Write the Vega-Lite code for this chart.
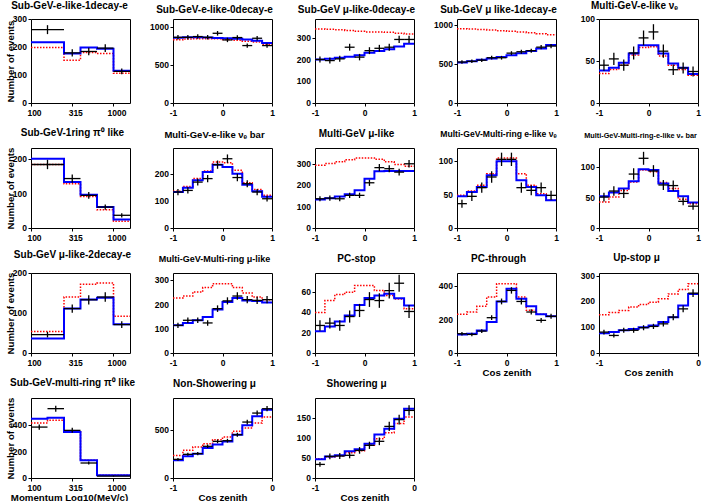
{
"$schema": "https://vega.github.io/schema/vega-lite/v6.json",
"background": "white",
"padding": {"left": 4, "top": 0, "right": 0, "bottom": 0},
"autosize": {"type": "pad"},
"columns": 5,
"spacing": {"row": 45, "column": 43},
"bounds": "flush",
"datasets": {
"yt1": [{"v":0},{"v":100},{"v":200},{"v":300}],
"yt2": [{"v":0},{"v":500},{"v":1000}],
"yt3": [{"v":0},{"v":100},{"v":200},{"v":300}],
"yt4": [{"v":0},{"v":500},{"v":1000}],
"yt5": [{"v":0},{"v":50},{"v":100}],
"yt6": [{"v":0},{"v":100},{"v":200}],
"yt7": [{"v":0},{"v":100},{"v":200}],
"yt8": [{"v":0},{"v":100},{"v":200},{"v":300}],
"yt9": [{"v":0},{"v":50},{"v":100}],
"yt10": [{"v":0},{"v":50},{"v":100}],
"yt11": [{"v":0},{"v":100},{"v":200}],
"yt12": [{"v":0},{"v":100},{"v":200},{"v":300}],
"yt13": [{"v":0},{"v":20},{"v":40},{"v":60}],
"yt14": [{"v":0},{"v":200},{"v":400}],
"yt15": [{"v":0},{"v":100},{"v":200},{"v":300}],
"yt16": [{"v":0},{"v":200},{"v":400}],
"yt17": [{"v":0},{"v":500}],
"yt18": [{"v":0},{"v":50},{"v":100},{"v":150}],
"p1": [{"x0":2.0,"x1":2.4,"xc":2.2,"d":262,"lo":246,"hi":278,"b":217,"r":198},{"x0":2.4,"x1":2.6,"xc":2.5,"d":179,"lo":166,"hi":192,"b":177,"r":153},{"x0":2.6,"x1":2.8,"xc":2.7,"d":184,"lo":170.5,"hi":197.5,"b":198,"r":180},{"x0":2.8,"x1":3.0,"xc":2.9,"d":196,"lo":182,"hi":210,"b":194,"r":177},{"x0":3.0,"x1":3.2,"xc":3.1,"d":113,"lo":102.4,"hi":123.6,"b":115,"r":106},{"x0":3.2,"b":115,"r":106}],
"p2": [{"x0":-1,"x1":-0.8,"xc":-0.9,"d":860,"lo":831,"hi":889,"b":855,"r":828},{"x0":-0.8,"x1":-0.6,"xc":-0.7,"d":860,"lo":831,"hi":889,"b":860,"r":838},{"x0":-0.6,"x1":-0.4,"xc":-0.5,"d":870,"lo":841,"hi":899,"b":862,"r":842},{"x0":-0.4,"x1":-0.2,"xc":-0.3,"d":860,"lo":831,"hi":889,"b":858,"r":842},{"x0":-0.2,"x1":0,"xc":-0.1,"d":913,"lo":883,"hi":943,"b":852,"r":840},{"x0":0,"x1":0.2,"xc":0.1,"d":826,"lo":797,"hi":855,"b":848,"r":832},{"x0":0.2,"x1":0.4,"xc":0.3,"d":857,"lo":828,"hi":886,"b":842,"r":822},{"x0":0.4,"x1":0.6,"xc":0.5,"d":752,"lo":725,"hi":779,"b":832,"r":810},{"x0":0.6,"x1":0.8,"xc":0.7,"d":848,"lo":819,"hi":877,"b":815,"r":800},{"x0":0.8,"x1":1,"xc":0.9,"d":752,"lo":725,"hi":779,"b":785,"r":770},{"x0":1,"b":785,"r":770}],
"p3": [{"x0":-1,"x1":-0.8,"xc":-0.9,"d":202,"lo":188,"hi":216,"b":202,"r":344},{"x0":-0.8,"x1":-0.6,"xc":-0.7,"d":197,"lo":183,"hi":211,"b":205,"r":342},{"x0":-0.6,"x1":-0.4,"xc":-0.5,"d":205,"lo":191,"hi":219,"b":210,"r":340},{"x0":-0.4,"x1":-0.2,"xc":-0.3,"d":259,"lo":243,"hi":275,"b":215,"r":337},{"x0":-0.2,"x1":0,"xc":-0.1,"d":213,"lo":198,"hi":228,"b":222,"r":333},{"x0":0,"x1":0.2,"xc":0.1,"d":243,"lo":227,"hi":259,"b":233,"r":330},{"x0":0.2,"x1":0.4,"xc":0.3,"d":254,"lo":238,"hi":270,"b":242,"r":330},{"x0":0.4,"x1":0.6,"xc":0.5,"d":259,"lo":243,"hi":275,"b":250,"r":328},{"x0":0.6,"x1":0.8,"xc":0.7,"d":295,"lo":278,"hi":312,"b":262,"r":324},{"x0":0.8,"x1":1,"xc":0.9,"d":295,"lo":278,"hi":312,"b":275,"r":320},{"x0":1,"b":275,"r":320}],
"p4": [{"x0":-1,"x1":-0.8,"xc":-0.9,"d":527,"lo":504,"hi":550,"b":522,"r":955},{"x0":-0.8,"x1":-0.6,"xc":-0.7,"d":536,"lo":513,"hi":559,"b":538,"r":950},{"x0":-0.6,"x1":-0.4,"xc":-0.5,"d":550,"lo":527,"hi":573,"b":555,"r":945},{"x0":-0.4,"x1":-0.2,"xc":-0.3,"d":582,"lo":558,"hi":606,"b":572,"r":940},{"x0":-0.2,"x1":0,"xc":-0.1,"d":582,"lo":558,"hi":606,"b":590,"r":930},{"x0":0,"x1":0.2,"xc":0.1,"d":641,"lo":616,"hi":666,"b":615,"r":922},{"x0":0.2,"x1":0.4,"xc":0.3,"d":659,"lo":633,"hi":685,"b":640,"r":912},{"x0":0.4,"x1":0.6,"xc":0.5,"d":673,"lo":647,"hi":699,"b":668,"r":902},{"x0":0.6,"x1":0.8,"xc":0.7,"d":718,"lo":691,"hi":745,"b":700,"r":890},{"x0":0.8,"x1":1,"xc":0.9,"d":732,"lo":705,"hi":759,"b":745,"r":877},{"x0":1,"b":745,"r":877}],
"p5": [{"x0":-1,"x1":-0.8,"xc":-0.9,"d":45,"lo":38.3,"hi":51.7,"b":38.8,"r":35},{"x0":-0.8,"x1":-0.6,"xc":-0.7,"d":52.5,"lo":45.3,"hi":59.7,"b":42,"r":40},{"x0":-0.6,"x1":-0.4,"xc":-0.5,"d":45,"lo":38.3,"hi":51.7,"b":48,"r":45},{"x0":-0.4,"x1":-0.2,"xc":-0.3,"d":59.6,"lo":51.9,"hi":67.3,"b":58.8,"r":57},{"x0":-0.2,"x1":0,"xc":-0.1,"d":77.5,"lo":68.7,"hi":86.3,"b":68.8,"r":66},{"x0":0,"x1":0.2,"xc":0.1,"d":84.6,"lo":75.4,"hi":93.8,"b":68.8,"r":67},{"x0":0.2,"x1":0.4,"xc":0.3,"d":61.7,"lo":53.8,"hi":69.6,"b":58.8,"r":56},{"x0":0.4,"x1":0.6,"xc":0.5,"d":39.6,"lo":33.3,"hi":45.9,"b":47,"r":45},{"x0":0.6,"x1":0.8,"xc":0.7,"d":41.7,"lo":35.2,"hi":48.2,"b":42,"r":40},{"x0":0.8,"x1":1,"xc":0.9,"d":37.5,"lo":31.4,"hi":43.6,"b":34.6,"r":33},{"x0":1,"b":34.6,"r":33}],
"p6": [{"x0":2.0,"x1":2.4,"xc":2.2,"d":185,"lo":171.4,"hi":198.6,"b":202,"r":185},{"x0":2.4,"x1":2.6,"xc":2.5,"d":144,"lo":132,"hi":156,"b":134,"r":129},{"x0":2.6,"x1":2.8,"xc":2.7,"d":95,"lo":85.3,"hi":104.7,"b":97,"r":92},{"x0":2.8,"x1":3.0,"xc":2.9,"d":61,"lo":53.2,"hi":68.8,"b":61,"r":53},{"x0":3.0,"x1":3.2,"xc":3.1,"d":37,"lo":30.9,"hi":43.1,"b":25,"r":20},{"x0":3.2,"b":25,"r":20}],
"p7": [{"x0":-1,"x1":-0.8,"xc":-0.9,"d":134,"lo":122.4,"hi":145.6,"b":134,"r":137},{"x0":-0.8,"x1":-0.6,"xc":-0.7,"d":140,"lo":128.2,"hi":151.8,"b":150,"r":155},{"x0":-0.6,"x1":-0.4,"xc":-0.5,"d":171,"lo":158,"hi":184,"b":178,"r":184},{"x0":-0.4,"x1":-0.2,"xc":-0.3,"d":184,"lo":170.4,"hi":197.6,"b":209,"r":212},{"x0":-0.2,"x1":0,"xc":-0.1,"d":236,"lo":220.6,"hi":251.4,"b":236,"r":246},{"x0":0,"x1":0.2,"xc":0.1,"d":258,"lo":242,"hi":274,"b":227,"r":243},{"x0":0.2,"x1":0.4,"xc":0.3,"d":188,"lo":174.3,"hi":201.7,"b":202,"r":215},{"x0":0.4,"x1":0.6,"xc":0.5,"d":165,"lo":152.2,"hi":177.8,"b":161,"r":169},{"x0":0.6,"x1":0.8,"xc":0.7,"d":134,"lo":122.4,"hi":145.6,"b":137,"r":143},{"x0":0.8,"x1":1,"xc":0.9,"d":109,"lo":98.6,"hi":119.4,"b":116,"r":122},{"x0":1,"b":116,"r":122}],
"p8": [{"x0":-1,"x1":-0.8,"xc":-0.9,"d":137,"lo":125.3,"hi":148.7,"b":134,"r":294},{"x0":-0.8,"x1":-0.6,"xc":-0.7,"d":140,"lo":128.2,"hi":151.8,"b":140,"r":302},{"x0":-0.6,"x1":-0.4,"xc":-0.5,"d":137,"lo":125.3,"hi":148.7,"b":148,"r":310},{"x0":-0.4,"x1":-0.2,"xc":-0.3,"d":153,"lo":140.6,"hi":165.4,"b":158,"r":320},{"x0":-0.2,"x1":0,"xc":-0.1,"d":153,"lo":140.6,"hi":165.4,"b":177,"r":328},{"x0":0,"x1":0.2,"xc":0.1,"d":212,"lo":197.4,"hi":226.6,"b":231,"r":328},{"x0":0.2,"x1":0.4,"xc":0.3,"d":283,"lo":266.2,"hi":299.8,"b":266,"r":322},{"x0":0.4,"x1":0.6,"xc":0.5,"d":278,"lo":261.3,"hi":294.7,"b":267,"r":310},{"x0":0.6,"x1":0.8,"xc":0.7,"d":262,"lo":245.8,"hi":278.2,"b":267,"r":298},{"x0":0.8,"x1":1,"xc":0.9,"d":301,"lo":283.7,"hi":318.3,"b":267,"r":290},{"x0":1,"b":267,"r":290}],
"p9": [{"x0":-1,"x1":-0.8,"xc":-0.9,"d":36.5,"lo":30.5,"hi":42.5,"b":47.5,"r":49},{"x0":-0.8,"x1":-0.6,"xc":-0.7,"d":47.5,"lo":40.6,"hi":54.4,"b":54,"r":55.5},{"x0":-0.6,"x1":-0.4,"xc":-0.5,"d":60.5,"lo":52.7,"hi":68.3,"b":61.5,"r":64},{"x0":-0.4,"x1":-0.2,"xc":-0.3,"d":76.5,"lo":67.8,"hi":85.2,"b":79,"r":81.5},{"x0":-0.2,"x1":0,"xc":-0.1,"d":103,"lo":93,"hi":113,"b":100,"r":105},{"x0":0,"x1":0.2,"xc":0.1,"d":103,"lo":93,"hi":113,"b":100,"r":105},{"x0":0.2,"x1":0.4,"xc":0.3,"d":60.5,"lo":52.7,"hi":68.3,"b":71.5,"r":81.5},{"x0":0.4,"x1":0.6,"xc":0.5,"d":56.5,"lo":49,"hi":64,"b":61.5,"r":64},{"x0":0.6,"x1":0.8,"xc":0.7,"d":60.5,"lo":52.7,"hi":68.3,"b":49,"r":51.5},{"x0":0.8,"x1":1,"xc":0.9,"d":49,"lo":42,"hi":56,"b":41.5,"r":41.5},{"x0":1,"b":41.5,"r":41.5}],
"p10": [{"x0":-1,"x1":-0.8,"xc":-0.9,"d":51,"lo":43.9,"hi":58.1,"b":52.5,"r":43},{"x0":-0.8,"x1":-0.6,"xc":-0.7,"d":61,"lo":53.2,"hi":68.8,"b":58.5,"r":51},{"x0":-0.6,"x1":-0.4,"xc":-0.5,"d":57,"lo":49.5,"hi":64.5,"b":65,"r":62},{"x0":-0.4,"x1":-0.2,"xc":-0.3,"d":89,"lo":79.6,"hi":98.4,"b":77,"r":76},{"x0":-0.2,"x1":0,"xc":-0.1,"d":115,"lo":104.3,"hi":125.7,"b":97,"r":95.5},{"x0":0,"x1":0.2,"xc":0.1,"d":94,"lo":84.3,"hi":103.7,"b":95.5,"r":93},{"x0":0.2,"x1":0.4,"xc":0.3,"d":71,"lo":62.6,"hi":79.4,"b":73.5,"r":75},{"x0":0.4,"x1":0.6,"xc":0.5,"d":70,"lo":61.6,"hi":78.4,"b":61,"r":65},{"x0":0.6,"x1":0.8,"xc":0.7,"d":44,"lo":37.4,"hi":50.6,"b":52.5,"r":47.5},{"x0":0.8,"x1":1,"xc":0.9,"d":36,"lo":30,"hi":42,"b":42,"r":40},{"x0":1,"b":42,"r":40}],
"p11": [{"x0":2.0,"x1":2.4,"xc":2.2,"d":46,"lo":39,"hi":53,"b":36,"r":54},{"x0":2.4,"x1":2.6,"xc":2.5,"d":111,"lo":100.5,"hi":121.5,"b":111,"r":140},{"x0":2.6,"x1":2.8,"xc":2.7,"d":133,"lo":121.5,"hi":144.5,"b":134,"r":172},{"x0":2.8,"x1":3.0,"xc":2.9,"d":140,"lo":128,"hi":152,"b":138,"r":175},{"x0":3.0,"x1":3.2,"xc":3.1,"d":71,"lo":62.5,"hi":79.5,"b":72,"r":92},{"x0":3.2,"b":72,"r":92}],
"p12": [{"x0":-1,"x1":-0.8,"xc":-0.9,"d":114,"lo":103.3,"hi":124.7,"b":114,"r":227},{"x0":-0.8,"x1":-0.6,"xc":-0.7,"d":135,"lo":123.4,"hi":146.6,"b":124,"r":235},{"x0":-0.6,"x1":-0.4,"xc":-0.5,"d":135,"lo":123.4,"hi":146.6,"b":135,"r":252},{"x0":-0.4,"x1":-0.2,"xc":-0.3,"d":124,"lo":112.9,"hi":135.1,"b":149,"r":270},{"x0":-0.2,"x1":0,"xc":-0.1,"d":183,"lo":169.5,"hi":196.5,"b":179,"r":286},{"x0":0,"x1":0.2,"xc":0.1,"d":215,"lo":200.3,"hi":229.7,"b":210,"r":286},{"x0":0.2,"x1":0.4,"xc":0.3,"d":235,"lo":219.7,"hi":250.3,"b":227,"r":270},{"x0":0.4,"x1":0.6,"xc":0.5,"d":220,"lo":205.2,"hi":234.8,"b":217,"r":248},{"x0":0.6,"x1":0.8,"xc":0.7,"d":217,"lo":202.3,"hi":231.7,"b":215,"r":231},{"x0":0.8,"x1":1,"xc":0.9,"d":220,"lo":205.2,"hi":234.8,"b":208,"r":220},{"x0":1,"b":208,"r":220}],
"p13": [{"x0":-1,"x1":-0.8,"xc":-0.9,"d":27.2,"lo":22,"hi":32.4,"b":21.6,"r":40},{"x0":-0.8,"x1":-0.6,"xc":-0.7,"d":29.5,"lo":24.1,"hi":34.9,"b":26.2,"r":51.8},{"x0":-0.6,"x1":-0.4,"xc":-0.5,"d":27.2,"lo":22,"hi":32.4,"b":31.1,"r":57.7},{"x0":-0.4,"x1":-0.2,"xc":-0.3,"d":36,"lo":30,"hi":42,"b":37,"r":60},{"x0":-0.2,"x1":0,"xc":-0.1,"d":42,"lo":35.5,"hi":48.5,"b":47.5,"r":66.6},{"x0":0,"x1":0.2,"xc":0.1,"d":52.8,"lo":45.5,"hi":60.1,"b":54.4,"r":66.6},{"x0":0.2,"x1":0.4,"xc":0.3,"d":51.8,"lo":44.6,"hi":59,"b":56.7,"r":61.6},{"x0":0.4,"x1":0.6,"xc":0.5,"d":61.6,"lo":53.8,"hi":69.4,"b":58.4,"r":56.7},{"x0":0.6,"x1":0.8,"xc":0.7,"d":68.9,"lo":60.6,"hi":77.2,"b":54,"r":53.4},{"x0":0.8,"x1":1,"xc":0.9,"d":41,"lo":34.6,"hi":47.4,"b":46.9,"r":43.6},{"x0":1,"b":46.9,"r":43.6}],
"p14": [{"x0":-1,"x1":-0.8,"xc":-0.9,"d":115,"lo":104.3,"hi":125.7,"b":111,"r":231},{"x0":-0.8,"x1":-0.6,"xc":-0.7,"d":111,"lo":100.5,"hi":121.5,"b":115,"r":245},{"x0":-0.6,"x1":-0.4,"xc":-0.5,"d":131,"lo":119.6,"hi":142.4,"b":135,"r":279},{"x0":-0.4,"x1":-0.2,"xc":-0.3,"d":211,"lo":196.5,"hi":225.5,"b":185,"r":334},{"x0":-0.2,"x1":0,"xc":-0.1,"d":308,"lo":290.5,"hi":325.5,"b":308,"r":414},{"x0":0,"x1":0.2,"xc":0.1,"d":374,"lo":354.7,"hi":393.3,"b":384,"r":414},{"x0":0.2,"x1":0.4,"xc":0.3,"d":308,"lo":290.5,"hi":325.5,"b":324,"r":334},{"x0":0.4,"x1":0.6,"xc":0.5,"d":245,"lo":229.3,"hi":260.7,"b":279,"r":255},{"x0":0.6,"x1":0.8,"xc":0.7,"d":195,"lo":181,"hi":209,"b":231,"r":231},{"x0":0.8,"x1":1,"xc":0.9,"d":219,"lo":204.2,"hi":233.8,"b":219,"r":219},{"x0":1,"b":219,"r":219}],
"p15": [{"x0":-1,"x1":-0.9,"xc":-0.95,"d":81,"lo":72,"hi":90,"b":77,"r":148},{"x0":-0.9,"x1":-0.8,"xc":-0.85,"d":68,"lo":59.8,"hi":76.2,"b":81,"r":157},{"x0":-0.8,"x1":-0.7,"xc":-0.75,"d":88,"lo":78.6,"hi":97.4,"b":88,"r":165},{"x0":-0.7,"x1":-0.6,"xc":-0.65,"d":88,"lo":78.6,"hi":97.4,"b":93,"r":178},{"x0":-0.6,"x1":-0.5,"xc":-0.55,"d":98,"lo":88.1,"hi":107.9,"b":100,"r":188},{"x0":-0.5,"x1":-0.4,"xc":-0.45,"d":103,"lo":92.9,"hi":113.1,"b":107,"r":197},{"x0":-0.4,"x1":-0.3,"xc":-0.35,"d":113,"lo":102.4,"hi":123.6,"b":120,"r":210},{"x0":-0.3,"x1":-0.2,"xc":-0.25,"d":139,"lo":127.2,"hi":150.8,"b":139,"r":229},{"x0":-0.2,"x1":-0.1,"xc":-0.15,"d":171,"lo":157.9,"hi":184.1,"b":184,"r":246},{"x0":-0.1,"x1":0,"xc":-0.05,"d":232,"lo":216.8,"hi":247.2,"b":229,"r":268},{"x0":0,"b":229,"r":268}],
"p16": [{"x0":2.0,"x1":2.2,"xc":2.1,"d":387,"lo":367,"hi":407,"b":451,"r":418},{"x0":2.2,"x1":2.4,"xc":2.3,"d":527,"lo":504,"hi":550,"b":458,"r":438},{"x0":2.4,"x1":2.6,"xc":2.5,"d":362,"lo":343,"hi":381,"b":350,"r":349},{"x0":2.6,"x1":2.8,"xc":2.7,"d":114,"lo":103.3,"hi":124.7,"b":135,"r":134},{"x0":2.8,"x1":3.2,"xc":3.0,"d":15,"lo":11,"hi":19,"b":20,"r":20},{"x0":3.2,"b":20,"r":20}],
"p17": [{"x0":-1,"x1":-0.9,"xc":-0.95,"d":193,"lo":179,"hi":207,"b":183,"r":234},{"x0":-0.9,"x1":-0.8,"xc":-0.85,"d":245,"lo":229,"hi":261,"b":224,"r":286},{"x0":-0.8,"x1":-0.7,"xc":-0.75,"d":252,"lo":236,"hi":268,"b":252,"r":321},{"x0":-0.7,"x1":-0.6,"xc":-0.65,"d":328,"lo":310,"hi":346,"b":310,"r":355},{"x0":-0.6,"x1":-0.5,"xc":-0.55,"d":379,"lo":359.5,"hi":398.5,"b":348,"r":397},{"x0":-0.5,"x1":-0.4,"xc":-0.45,"d":386,"lo":366.4,"hi":405.6,"b":379,"r":424},{"x0":-0.4,"x1":-0.3,"xc":-0.35,"d":448,"lo":427,"hi":469,"b":448,"r":483},{"x0":-0.3,"x1":-0.2,"xc":-0.25,"d":579,"lo":555,"hi":603,"b":545,"r":517},{"x0":-0.2,"x1":-0.1,"xc":-0.15,"d":672,"lo":646,"hi":698,"b":638,"r":569},{"x0":-0.1,"x1":0,"xc":-0.05,"d":717,"lo":690,"hi":744,"b":707,"r":631},{"x0":0,"b":707,"r":631}],
"p18": [{"x0":-1,"x1":-0.9,"xc":-0.95,"d":34,"lo":28.2,"hi":39.8,"b":46.7,"r":48},{"x0":-0.9,"x1":-0.8,"xc":-0.85,"d":54,"lo":46.7,"hi":61.3,"b":54,"r":52.5},{"x0":-0.8,"x1":-0.7,"xc":-0.75,"d":55,"lo":47.6,"hi":62.4,"b":56.7,"r":55},{"x0":-0.7,"x1":-0.6,"xc":-0.65,"d":56.7,"lo":49.2,"hi":64.2,"b":66.7,"r":63},{"x0":-0.6,"x1":-0.5,"xc":-0.55,"d":69,"lo":60.7,"hi":77.3,"b":71.7,"r":68},{"x0":-0.5,"x1":-0.4,"xc":-0.45,"d":81.7,"lo":72.7,"hi":90.7,"b":85.8,"r":81.7},{"x0":-0.4,"x1":-0.3,"xc":-0.35,"d":91.7,"lo":82.1,"hi":101.3,"b":109,"r":98},{"x0":-0.3,"x1":-0.2,"xc":-0.25,"d":129,"lo":117.6,"hi":140.4,"b":123,"r":113},{"x0":-0.2,"x1":-0.1,"xc":-0.15,"d":146,"lo":134,"hi":158,"b":148,"r":136},{"x0":-0.1,"x1":0,"xc":-0.05,"d":169,"lo":156,"hi":182,"b":173,"r":152.5},{"x0":0,"b":173,"r":152.5}]
},
"concat": [
{"width":99,"height":84,"title":{"text":"Sub-GeV-e-like-1decay-e","offset":4,"dx":-11},"data":{"name":"p1"},"layer":[
{"mark":{"type":"line","interpolate":"step-after","color":"#ff0000","strokeDash":[1.5,1.5],"strokeWidth":1.5},"encoding":{"x":{"field":"x0","type":"quantitative","scale":{"domain":[2,3.2],"nice":false,"zero":false},"axis":{"title":null,"values":[2,2.5,3],"labelExpr":"datum.value < 2.2 ? '100' : datum.value < 2.8 ? '315' : '1000'","labelOffset":3}},"y":{"field":"r","type":"quantitative","scale":{"domain":[0,300],"nice":false},"axis":{"title":"Number of events","values":[0,100,200,300]}}}},
{"mark":{"type":"line","interpolate":"step-after","color":"#0000ff","strokeWidth":2},"encoding":{"x":{"field":"x0","type":"quantitative"},"y":{"field":"b","type":"quantitative"}}},
{"transform":[{"filter":"isValid(datum.d)"}],"mark":{"type":"rule","color":"#000000","strokeWidth":1.3},"encoding":{"x":{"field":"x0","type":"quantitative"},"x2":{"field":"x1"},"y":{"field":"d","type":"quantitative"}}},
{"transform":[{"filter":"isValid(datum.d)"}],"mark":{"type":"rule","color":"#000000","strokeWidth":1.3},"encoding":{"x":{"field":"xc","type":"quantitative"},"y":{"field":"lo","type":"quantitative"},"y2":{"field":"hi"}}},
{"data":{"name":"yt1"},"mark":{"type":"text","align":"right","baseline":"middle","dx":-4,"font":"Liberation Sans","fontWeight":"bold","fontSize":8.5,"color":"#000000"},"encoding":{"x":{"datum":2,"type":"quantitative"},"y":{"field":"v","type":"quantitative"},"text":{"field":"v","type":"nominal"}}}]},
{"width":99,"height":84,"title":{"text":"Sub-GeV-e-like-0decay-e","offset":4},"data":{"name":"p2"},"layer":[
{"mark":{"type":"line","interpolate":"step-after","color":"#ff0000","strokeDash":[1.5,1.5],"strokeWidth":1.5},"encoding":{"x":{"field":"x0","type":"quantitative","scale":{"domain":[-1,1],"nice":false,"zero":false},"axis":{"title":null,"values":[-1,0,1],"labelExpr":"datum.value < -0.5 ? '-1' : datum.value > 0.5 ? '1' : '0'"}},"y":{"field":"r","type":"quantitative","scale":{"domain":[0,1100],"nice":false},"axis":{"title":null,"values":[0,500,1000]}}}},
{"mark":{"type":"line","interpolate":"step-after","color":"#0000ff","strokeWidth":2},"encoding":{"x":{"field":"x0","type":"quantitative"},"y":{"field":"b","type":"quantitative"}}},
{"transform":[{"filter":"isValid(datum.d)"}],"mark":{"type":"rule","color":"#000000","strokeWidth":1.3},"encoding":{"x":{"field":"x0","type":"quantitative"},"x2":{"field":"x1"},"y":{"field":"d","type":"quantitative"}}},
{"transform":[{"filter":"isValid(datum.d)"}],"mark":{"type":"rule","color":"#000000","strokeWidth":1.3},"encoding":{"x":{"field":"xc","type":"quantitative"},"y":{"field":"lo","type":"quantitative"},"y2":{"field":"hi"}}},
{"data":{"name":"yt2"},"mark":{"type":"text","align":"right","baseline":"middle","dx":-4,"font":"Liberation Sans","fontWeight":"bold","fontSize":8.5,"color":"#000000"},"encoding":{"x":{"datum":-1,"type":"quantitative"},"y":{"field":"v","type":"quantitative"},"text":{"field":"v","type":"nominal"}}}]},
{"width":99,"height":84,"title":{"text":"Sub-GeV μ-like-0decay-e","offset":4},"data":{"name":"p3"},"layer":[
{"mark":{"type":"line","interpolate":"step-after","color":"#ff0000","strokeDash":[1.5,1.5],"strokeWidth":1.5},"encoding":{"x":{"field":"x0","type":"quantitative","scale":{"domain":[-1,1],"nice":false,"zero":false},"axis":{"title":null,"values":[-1,0,1],"labelExpr":"datum.value < -0.5 ? '-1' : datum.value > 0.5 ? '1' : '0'"}},"y":{"field":"r","type":"quantitative","scale":{"domain":[0,390],"nice":false},"axis":{"title":null,"values":[0,100,200,300]}}}},
{"mark":{"type":"line","interpolate":"step-after","color":"#0000ff","strokeWidth":2},"encoding":{"x":{"field":"x0","type":"quantitative"},"y":{"field":"b","type":"quantitative"}}},
{"transform":[{"filter":"isValid(datum.d)"}],"mark":{"type":"rule","color":"#000000","strokeWidth":1.3},"encoding":{"x":{"field":"x0","type":"quantitative"},"x2":{"field":"x1"},"y":{"field":"d","type":"quantitative"}}},
{"transform":[{"filter":"isValid(datum.d)"}],"mark":{"type":"rule","color":"#000000","strokeWidth":1.3},"encoding":{"x":{"field":"xc","type":"quantitative"},"y":{"field":"lo","type":"quantitative"},"y2":{"field":"hi"}}},
{"data":{"name":"yt3"},"mark":{"type":"text","align":"right","baseline":"middle","dx":-4,"font":"Liberation Sans","fontWeight":"bold","fontSize":8.5,"color":"#000000"},"encoding":{"x":{"datum":-1,"type":"quantitative"},"y":{"field":"v","type":"quantitative"},"text":{"field":"v","type":"nominal"}}}]},
{"width":99,"height":84,"title":{"text":"Sub-GeV μ like-1decay-e","offset":4},"data":{"name":"p4"},"layer":[
{"mark":{"type":"line","interpolate":"step-after","color":"#ff0000","strokeDash":[1.5,1.5],"strokeWidth":1.5},"encoding":{"x":{"field":"x0","type":"quantitative","scale":{"domain":[-1,1],"nice":false,"zero":false},"axis":{"title":null,"values":[-1,0,1],"labelExpr":"datum.value < -0.5 ? '-1' : datum.value > 0.5 ? '1' : '0'"}},"y":{"field":"r","type":"quantitative","scale":{"domain":[0,1080],"nice":false},"axis":{"title":null,"values":[0,500,1000]}}}},
{"mark":{"type":"line","interpolate":"step-after","color":"#0000ff","strokeWidth":2},"encoding":{"x":{"field":"x0","type":"quantitative"},"y":{"field":"b","type":"quantitative"}}},
{"transform":[{"filter":"isValid(datum.d)"}],"mark":{"type":"rule","color":"#000000","strokeWidth":1.3},"encoding":{"x":{"field":"x0","type":"quantitative"},"x2":{"field":"x1"},"y":{"field":"d","type":"quantitative"}}},
{"transform":[{"filter":"isValid(datum.d)"}],"mark":{"type":"rule","color":"#000000","strokeWidth":1.3},"encoding":{"x":{"field":"xc","type":"quantitative"},"y":{"field":"lo","type":"quantitative"},"y2":{"field":"hi"}}},
{"data":{"name":"yt4"},"mark":{"type":"text","align":"right","baseline":"middle","dx":-4,"font":"Liberation Sans","fontWeight":"bold","fontSize":8.5,"color":"#000000"},"encoding":{"x":{"datum":-1,"type":"quantitative"},"y":{"field":"v","type":"quantitative"},"text":{"field":"v","type":"nominal"}}}]},
{"width":99,"height":84,"title":{"text":"Multi-GeV-e-like νₑ","offset":4,"dx":-14},"data":{"name":"p5"},"layer":[
{"mark":{"type":"line","interpolate":"step-after","color":"#ff0000","strokeDash":[1.5,1.5],"strokeWidth":1.5},"encoding":{"x":{"field":"x0","type":"quantitative","scale":{"domain":[-1,1],"nice":false,"zero":false},"axis":{"title":null,"values":[-1,0,1],"labelExpr":"datum.value < -0.5 ? '-1' : datum.value > 0.5 ? '1' : '0'"}},"y":{"field":"r","type":"quantitative","scale":{"domain":[0,100],"nice":false},"axis":{"title":null,"values":[0,50,100]}}}},
{"mark":{"type":"line","interpolate":"step-after","color":"#0000ff","strokeWidth":2},"encoding":{"x":{"field":"x0","type":"quantitative"},"y":{"field":"b","type":"quantitative"}}},
{"transform":[{"filter":"isValid(datum.d)"}],"mark":{"type":"rule","color":"#000000","strokeWidth":1.3},"encoding":{"x":{"field":"x0","type":"quantitative"},"x2":{"field":"x1"},"y":{"field":"d","type":"quantitative"}}},
{"transform":[{"filter":"isValid(datum.d)"}],"mark":{"type":"rule","color":"#000000","strokeWidth":1.3},"encoding":{"x":{"field":"xc","type":"quantitative"},"y":{"field":"lo","type":"quantitative"},"y2":{"field":"hi"}}},
{"data":{"name":"yt5"},"mark":{"type":"text","align":"right","baseline":"middle","dx":-4,"font":"Liberation Sans","fontWeight":"bold","fontSize":8.5,"color":"#000000"},"encoding":{"x":{"datum":-1,"type":"quantitative"},"y":{"field":"v","type":"quantitative"},"text":{"field":"v","type":"nominal"}}}]},
{"width":99,"height":80,"title":{"text":"Sub-GeV-1ring π⁰ like"},"data":{"name":"p6"},"layer":[
{"mark":{"type":"line","interpolate":"step-after","color":"#ff0000","strokeDash":[1.5,1.5],"strokeWidth":1.5},"encoding":{"x":{"field":"x0","type":"quantitative","scale":{"domain":[2,3.2],"nice":false,"zero":false},"axis":{"title":null,"values":[2,2.5,3],"labelExpr":"datum.value < 2.2 ? '100' : datum.value < 2.8 ? '315' : '1000'","labelOffset":3}},"y":{"field":"r","type":"quantitative","scale":{"domain":[0,233],"nice":false},"axis":{"title":"Number of events","values":[0,100,200]}}}},
{"mark":{"type":"line","interpolate":"step-after","color":"#0000ff","strokeWidth":2},"encoding":{"x":{"field":"x0","type":"quantitative"},"y":{"field":"b","type":"quantitative"}}},
{"transform":[{"filter":"isValid(datum.d)"}],"mark":{"type":"rule","color":"#000000","strokeWidth":1.3},"encoding":{"x":{"field":"x0","type":"quantitative"},"x2":{"field":"x1"},"y":{"field":"d","type":"quantitative"}}},
{"transform":[{"filter":"isValid(datum.d)"}],"mark":{"type":"rule","color":"#000000","strokeWidth":1.3},"encoding":{"x":{"field":"xc","type":"quantitative"},"y":{"field":"lo","type":"quantitative"},"y2":{"field":"hi"}}},
{"data":{"name":"yt6"},"mark":{"type":"text","align":"right","baseline":"middle","dx":-4,"font":"Liberation Sans","fontWeight":"bold","fontSize":8.5,"color":"#000000"},"encoding":{"x":{"datum":2,"type":"quantitative"},"y":{"field":"v","type":"quantitative"},"text":{"field":"v","type":"nominal"}}}]},
{"width":99,"height":80,"title":{"text":"Multi-GeV-e-like νₑ bar","fontSize":9.5},"data":{"name":"p7"},"layer":[
{"mark":{"type":"line","interpolate":"step-after","color":"#ff0000","strokeDash":[1.5,1.5],"strokeWidth":1.5},"encoding":{"x":{"field":"x0","type":"quantitative","scale":{"domain":[-1,1],"nice":false,"zero":false},"axis":{"title":null,"values":[-1,0,1],"labelExpr":"datum.value < -0.5 ? '-1' : datum.value > 0.5 ? '1' : '0'"}},"y":{"field":"r","type":"quantitative","scale":{"domain":[0,298],"nice":false},"axis":{"title":null,"values":[0,100,200]}}}},
{"mark":{"type":"line","interpolate":"step-after","color":"#0000ff","strokeWidth":2},"encoding":{"x":{"field":"x0","type":"quantitative"},"y":{"field":"b","type":"quantitative"}}},
{"transform":[{"filter":"isValid(datum.d)"}],"mark":{"type":"rule","color":"#000000","strokeWidth":1.3},"encoding":{"x":{"field":"x0","type":"quantitative"},"x2":{"field":"x1"},"y":{"field":"d","type":"quantitative"}}},
{"transform":[{"filter":"isValid(datum.d)"}],"mark":{"type":"rule","color":"#000000","strokeWidth":1.3},"encoding":{"x":{"field":"xc","type":"quantitative"},"y":{"field":"lo","type":"quantitative"},"y2":{"field":"hi"}}},
{"data":{"name":"yt7"},"mark":{"type":"text","align":"right","baseline":"middle","dx":-4,"font":"Liberation Sans","fontWeight":"bold","fontSize":8.5,"color":"#000000"},"encoding":{"x":{"datum":-1,"type":"quantitative"},"y":{"field":"v","type":"quantitative"},"text":{"field":"v","type":"nominal"}}}]},
{"width":99,"height":80,"title":{"text":"Multi-GeV μ-like"},"data":{"name":"p8"},"layer":[
{"mark":{"type":"line","interpolate":"step-after","color":"#ff0000","strokeDash":[1.5,1.5],"strokeWidth":1.5},"encoding":{"x":{"field":"x0","type":"quantitative","scale":{"domain":[-1,1],"nice":false,"zero":false},"axis":{"title":null,"values":[-1,0,1],"labelExpr":"datum.value < -0.5 ? '-1' : datum.value > 0.5 ? '1' : '0'"}},"y":{"field":"r","type":"quantitative","scale":{"domain":[0,375],"nice":false},"axis":{"title":null,"values":[0,100,200,300]}}}},
{"mark":{"type":"line","interpolate":"step-after","color":"#0000ff","strokeWidth":2},"encoding":{"x":{"field":"x0","type":"quantitative"},"y":{"field":"b","type":"quantitative"}}},
{"transform":[{"filter":"isValid(datum.d)"}],"mark":{"type":"rule","color":"#000000","strokeWidth":1.3},"encoding":{"x":{"field":"x0","type":"quantitative"},"x2":{"field":"x1"},"y":{"field":"d","type":"quantitative"}}},
{"transform":[{"filter":"isValid(datum.d)"}],"mark":{"type":"rule","color":"#000000","strokeWidth":1.3},"encoding":{"x":{"field":"xc","type":"quantitative"},"y":{"field":"lo","type":"quantitative"},"y2":{"field":"hi"}}},
{"data":{"name":"yt8"},"mark":{"type":"text","align":"right","baseline":"middle","dx":-4,"font":"Liberation Sans","fontWeight":"bold","fontSize":8.5,"color":"#000000"},"encoding":{"x":{"datum":-1,"type":"quantitative"},"y":{"field":"v","type":"quantitative"},"text":{"field":"v","type":"nominal"}}}]},
{"width":99,"height":80,"title":{"text":"Multi-GeV-Multi-ring e-like νₑ","fontSize":8.6},"data":{"name":"p9"},"layer":[
{"mark":{"type":"line","interpolate":"step-after","color":"#ff0000","strokeDash":[1.5,1.5],"strokeWidth":1.5},"encoding":{"x":{"field":"x0","type":"quantitative","scale":{"domain":[-1,1],"nice":false,"zero":false},"axis":{"title":null,"values":[-1,0,1],"labelExpr":"datum.value < -0.5 ? '-1' : datum.value > 0.5 ? '1' : '0'"}},"y":{"field":"r","type":"quantitative","scale":{"domain":[0,120],"nice":false},"axis":{"title":null,"values":[0,50,100]}}}},
{"mark":{"type":"line","interpolate":"step-after","color":"#0000ff","strokeWidth":2},"encoding":{"x":{"field":"x0","type":"quantitative"},"y":{"field":"b","type":"quantitative"}}},
{"transform":[{"filter":"isValid(datum.d)"}],"mark":{"type":"rule","color":"#000000","strokeWidth":1.3},"encoding":{"x":{"field":"x0","type":"quantitative"},"x2":{"field":"x1"},"y":{"field":"d","type":"quantitative"}}},
{"transform":[{"filter":"isValid(datum.d)"}],"mark":{"type":"rule","color":"#000000","strokeWidth":1.3},"encoding":{"x":{"field":"xc","type":"quantitative"},"y":{"field":"lo","type":"quantitative"},"y2":{"field":"hi"}}},
{"data":{"name":"yt9"},"mark":{"type":"text","align":"right","baseline":"middle","dx":-4,"font":"Liberation Sans","fontWeight":"bold","fontSize":8.5,"color":"#000000"},"encoding":{"x":{"datum":-1,"type":"quantitative"},"y":{"field":"v","type":"quantitative"},"text":{"field":"v","type":"nominal"}}}]},
{"width":99,"height":80,"title":{"text":"Multi-GeV-Multi-ring-e-like νₑ bar","fontSize":7.3},"data":{"name":"p10"},"layer":[
{"mark":{"type":"line","interpolate":"step-after","color":"#ff0000","strokeDash":[1.5,1.5],"strokeWidth":1.5},"encoding":{"x":{"field":"x0","type":"quantitative","scale":{"domain":[-1,1],"nice":false,"zero":false},"axis":{"title":null,"values":[-1,0,1],"labelExpr":"datum.value < -0.5 ? '-1' : datum.value > 0.5 ? '1' : '0'"}},"y":{"field":"r","type":"quantitative","scale":{"domain":[0,132],"nice":false},"axis":{"title":null,"values":[0,50,100]}}}},
{"mark":{"type":"line","interpolate":"step-after","color":"#0000ff","strokeWidth":2},"encoding":{"x":{"field":"x0","type":"quantitative"},"y":{"field":"b","type":"quantitative"}}},
{"transform":[{"filter":"isValid(datum.d)"}],"mark":{"type":"rule","color":"#000000","strokeWidth":1.3},"encoding":{"x":{"field":"x0","type":"quantitative"},"x2":{"field":"x1"},"y":{"field":"d","type":"quantitative"}}},
{"transform":[{"filter":"isValid(datum.d)"}],"mark":{"type":"rule","color":"#000000","strokeWidth":1.3},"encoding":{"x":{"field":"xc","type":"quantitative"},"y":{"field":"lo","type":"quantitative"},"y2":{"field":"hi"}}},
{"data":{"name":"yt10"},"mark":{"type":"text","align":"right","baseline":"middle","dx":-4,"font":"Liberation Sans","fontWeight":"bold","fontSize":8.5,"color":"#000000"},"encoding":{"x":{"datum":-1,"type":"quantitative"},"y":{"field":"v","type":"quantitative"},"text":{"field":"v","type":"nominal"}}}]},
{"width":99,"height":80,"title":{"text":"Sub-GeV μ-like-2decay-e"},"data":{"name":"p11"},"layer":[
{"mark":{"type":"line","interpolate":"step-after","color":"#ff0000","strokeDash":[1.5,1.5],"strokeWidth":1.5},"encoding":{"x":{"field":"x0","type":"quantitative","scale":{"domain":[2,3.2],"nice":false,"zero":false},"axis":{"title":null,"values":[2,2.5,3],"labelExpr":"datum.value < 2.2 ? '100' : datum.value < 2.8 ? '315' : '1000'","labelOffset":3}},"y":{"field":"r","type":"quantitative","scale":{"domain":[0,200],"nice":false},"axis":{"title":"Number of events","values":[0,100,200]}}}},
{"mark":{"type":"line","interpolate":"step-after","color":"#0000ff","strokeWidth":2},"encoding":{"x":{"field":"x0","type":"quantitative"},"y":{"field":"b","type":"quantitative"}}},
{"transform":[{"filter":"isValid(datum.d)"}],"mark":{"type":"rule","color":"#000000","strokeWidth":1.3},"encoding":{"x":{"field":"x0","type":"quantitative"},"x2":{"field":"x1"},"y":{"field":"d","type":"quantitative"}}},
{"transform":[{"filter":"isValid(datum.d)"}],"mark":{"type":"rule","color":"#000000","strokeWidth":1.3},"encoding":{"x":{"field":"xc","type":"quantitative"},"y":{"field":"lo","type":"quantitative"},"y2":{"field":"hi"}}},
{"data":{"name":"yt11"},"mark":{"type":"text","align":"right","baseline":"middle","dx":-4,"font":"Liberation Sans","fontWeight":"bold","fontSize":8.5,"color":"#000000"},"encoding":{"x":{"datum":2,"type":"quantitative"},"y":{"field":"v","type":"quantitative"},"text":{"field":"v","type":"nominal"}}}]},
{"width":99,"height":80,"title":{"text":"Multi-GeV-Multi-ring μ-like","fontSize":9},"data":{"name":"p12"},"layer":[
{"mark":{"type":"line","interpolate":"step-after","color":"#ff0000","strokeDash":[1.5,1.5],"strokeWidth":1.5},"encoding":{"x":{"field":"x0","type":"quantitative","scale":{"domain":[-1,1],"nice":false,"zero":false},"axis":{"title":null,"values":[-1,0,1],"labelExpr":"datum.value < -0.5 ? '-1' : datum.value > 0.5 ? '1' : '0'"}},"y":{"field":"r","type":"quantitative","scale":{"domain":[0,330],"nice":false},"axis":{"title":null,"values":[0,100,200,300]}}}},
{"mark":{"type":"line","interpolate":"step-after","color":"#0000ff","strokeWidth":2},"encoding":{"x":{"field":"x0","type":"quantitative"},"y":{"field":"b","type":"quantitative"}}},
{"transform":[{"filter":"isValid(datum.d)"}],"mark":{"type":"rule","color":"#000000","strokeWidth":1.3},"encoding":{"x":{"field":"x0","type":"quantitative"},"x2":{"field":"x1"},"y":{"field":"d","type":"quantitative"}}},
{"transform":[{"filter":"isValid(datum.d)"}],"mark":{"type":"rule","color":"#000000","strokeWidth":1.3},"encoding":{"x":{"field":"xc","type":"quantitative"},"y":{"field":"lo","type":"quantitative"},"y2":{"field":"hi"}}},
{"data":{"name":"yt12"},"mark":{"type":"text","align":"right","baseline":"middle","dx":-4,"font":"Liberation Sans","fontWeight":"bold","fontSize":8.5,"color":"#000000"},"encoding":{"x":{"datum":-1,"type":"quantitative"},"y":{"field":"v","type":"quantitative"},"text":{"field":"v","type":"nominal"}}}]},
{"width":99,"height":80,"title":{"text":"PC-stop"},"data":{"name":"p13"},"layer":[
{"mark":{"type":"line","interpolate":"step-after","color":"#ff0000","strokeDash":[1.5,1.5],"strokeWidth":1.5},"encoding":{"x":{"field":"x0","type":"quantitative","scale":{"domain":[-1,1],"nice":false,"zero":false},"axis":{"title":null,"values":[-1,0,1],"labelExpr":"datum.value < -0.5 ? '-1' : datum.value > 0.5 ? '1' : '0'"}},"y":{"field":"r","type":"quantitative","scale":{"domain":[0,79],"nice":false},"axis":{"title":null,"values":[0,20,40,60]}}}},
{"mark":{"type":"line","interpolate":"step-after","color":"#0000ff","strokeWidth":2},"encoding":{"x":{"field":"x0","type":"quantitative"},"y":{"field":"b","type":"quantitative"}}},
{"transform":[{"filter":"isValid(datum.d)"}],"mark":{"type":"rule","color":"#000000","strokeWidth":1.3},"encoding":{"x":{"field":"x0","type":"quantitative"},"x2":{"field":"x1"},"y":{"field":"d","type":"quantitative"}}},
{"transform":[{"filter":"isValid(datum.d)"}],"mark":{"type":"rule","color":"#000000","strokeWidth":1.3},"encoding":{"x":{"field":"xc","type":"quantitative"},"y":{"field":"lo","type":"quantitative"},"y2":{"field":"hi"}}},
{"data":{"name":"yt13"},"mark":{"type":"text","align":"right","baseline":"middle","dx":-4,"font":"Liberation Sans","fontWeight":"bold","fontSize":8.5,"color":"#000000"},"encoding":{"x":{"datum":-1,"type":"quantitative"},"y":{"field":"v","type":"quantitative"},"text":{"field":"v","type":"nominal"}}}]},
{"width":99,"height":80,"title":{"text":"PC-through"},"data":{"name":"p14"},"layer":[
{"mark":{"type":"line","interpolate":"step-after","color":"#ff0000","strokeDash":[1.5,1.5],"strokeWidth":1.5},"encoding":{"x":{"field":"x0","type":"quantitative","scale":{"domain":[-1,1],"nice":false,"zero":false},"axis":{"title":"Cos zenith","values":[-1,0,1],"labelExpr":"datum.value < -0.5 ? '-1' : datum.value > 0.5 ? '1' : '0'","titleY":22,"titleBaseline":"alphabetic"}},"y":{"field":"r","type":"quantitative","scale":{"domain":[0,478],"nice":false},"axis":{"title":null,"values":[0,200,400]}}}},
{"mark":{"type":"line","interpolate":"step-after","color":"#0000ff","strokeWidth":2},"encoding":{"x":{"field":"x0","type":"quantitative"},"y":{"field":"b","type":"quantitative"}}},
{"transform":[{"filter":"isValid(datum.d)"}],"mark":{"type":"rule","color":"#000000","strokeWidth":1.3},"encoding":{"x":{"field":"x0","type":"quantitative"},"x2":{"field":"x1"},"y":{"field":"d","type":"quantitative"}}},
{"transform":[{"filter":"isValid(datum.d)"}],"mark":{"type":"rule","color":"#000000","strokeWidth":1.3},"encoding":{"x":{"field":"xc","type":"quantitative"},"y":{"field":"lo","type":"quantitative"},"y2":{"field":"hi"}}},
{"data":{"name":"yt14"},"mark":{"type":"text","align":"right","baseline":"middle","dx":-4,"font":"Liberation Sans","fontWeight":"bold","fontSize":8.5,"color":"#000000"},"encoding":{"x":{"datum":-1,"type":"quantitative"},"y":{"field":"v","type":"quantitative"},"text":{"field":"v","type":"nominal"}}}]},
{"width":99,"height":80,"title":{"text":"Up-stop μ","dx":-12},"data":{"name":"p15"},"layer":[
{"mark":{"type":"line","interpolate":"step-after","color":"#ff0000","strokeDash":[1.5,1.5],"strokeWidth":1.5},"encoding":{"x":{"field":"x0","type":"quantitative","scale":{"domain":[-1,0],"nice":false,"zero":false},"axis":{"title":"Cos zenith","values":[-1,0],"labelExpr":"datum.value < -0.5 ? '-1' : '0'","titleY":22,"titleBaseline":"alphabetic"}},"y":{"field":"r","type":"quantitative","scale":{"domain":[0,310],"nice":false},"axis":{"title":null,"values":[0,100,200,300]}}}},
{"mark":{"type":"line","interpolate":"step-after","color":"#0000ff","strokeWidth":2},"encoding":{"x":{"field":"x0","type":"quantitative"},"y":{"field":"b","type":"quantitative"}}},
{"transform":[{"filter":"isValid(datum.d)"}],"mark":{"type":"rule","color":"#000000","strokeWidth":1.3},"encoding":{"x":{"field":"x0","type":"quantitative"},"x2":{"field":"x1"},"y":{"field":"d","type":"quantitative"}}},
{"transform":[{"filter":"isValid(datum.d)"}],"mark":{"type":"rule","color":"#000000","strokeWidth":1.3},"encoding":{"x":{"field":"xc","type":"quantitative"},"y":{"field":"lo","type":"quantitative"},"y2":{"field":"hi"}}},
{"data":{"name":"yt15"},"mark":{"type":"text","align":"right","baseline":"middle","dx":-4,"font":"Liberation Sans","fontWeight":"bold","fontSize":8.5,"color":"#000000"},"encoding":{"x":{"datum":-1,"type":"quantitative"},"y":{"field":"v","type":"quantitative"},"text":{"field":"v","type":"nominal"}}}]},
{"width":99,"height":80,"title":{"text":"Sub-GeV-multi-ring π⁰ like"},"data":{"name":"p16"},"layer":[
{"mark":{"type":"line","interpolate":"step-after","color":"#ff0000","strokeDash":[1.5,1.5],"strokeWidth":1.5},"encoding":{"x":{"field":"x0","type":"quantitative","scale":{"domain":[2,3.2],"nice":false,"zero":false},"axis":{"title":"Momentum Log10(MeV/c)","values":[2,2.5,3],"labelExpr":"datum.value < 2.2 ? '100' : datum.value < 2.8 ? '315' : '1000'","labelOffset":3,"titleX":38,"titleAlign":"center","titleY":22.5,"titleBaseline":"alphabetic"}},"y":{"field":"r","type":"quantitative","scale":{"domain":[0,608],"nice":false},"axis":{"title":"Number of events","values":[0,200,400]}}}},
{"mark":{"type":"line","interpolate":"step-after","color":"#0000ff","strokeWidth":2},"encoding":{"x":{"field":"x0","type":"quantitative"},"y":{"field":"b","type":"quantitative"}}},
{"transform":[{"filter":"isValid(datum.d)"}],"mark":{"type":"rule","color":"#000000","strokeWidth":1.3},"encoding":{"x":{"field":"x0","type":"quantitative"},"x2":{"field":"x1"},"y":{"field":"d","type":"quantitative"}}},
{"transform":[{"filter":"isValid(datum.d)"}],"mark":{"type":"rule","color":"#000000","strokeWidth":1.3},"encoding":{"x":{"field":"xc","type":"quantitative"},"y":{"field":"lo","type":"quantitative"},"y2":{"field":"hi"}}},
{"data":{"name":"yt16"},"mark":{"type":"text","align":"right","baseline":"middle","dx":-4,"font":"Liberation Sans","fontWeight":"bold","fontSize":8.5,"color":"#000000"},"encoding":{"x":{"datum":2,"type":"quantitative"},"y":{"field":"v","type":"quantitative"},"text":{"field":"v","type":"nominal"}}}]},
{"width":99,"height":80,"title":{"text":"Non-Showering μ"},"data":{"name":"p17"},"layer":[
{"mark":{"type":"line","interpolate":"step-after","color":"#ff0000","strokeDash":[1.5,1.5],"strokeWidth":1.5},"encoding":{"x":{"field":"x0","type":"quantitative","scale":{"domain":[-1,0],"nice":false,"zero":false},"axis":{"title":"Cos zenith","values":[-1,0],"labelExpr":"datum.value < -0.5 ? '-1' : '0'","titleY":22,"titleBaseline":"alphabetic"}},"y":{"field":"r","type":"quantitative","scale":{"domain":[0,828],"nice":false},"axis":{"title":null,"values":[0,500]}}}},
{"mark":{"type":"line","interpolate":"step-after","color":"#0000ff","strokeWidth":2},"encoding":{"x":{"field":"x0","type":"quantitative"},"y":{"field":"b","type":"quantitative"}}},
{"transform":[{"filter":"isValid(datum.d)"}],"mark":{"type":"rule","color":"#000000","strokeWidth":1.3},"encoding":{"x":{"field":"x0","type":"quantitative"},"x2":{"field":"x1"},"y":{"field":"d","type":"quantitative"}}},
{"transform":[{"filter":"isValid(datum.d)"}],"mark":{"type":"rule","color":"#000000","strokeWidth":1.3},"encoding":{"x":{"field":"xc","type":"quantitative"},"y":{"field":"lo","type":"quantitative"},"y2":{"field":"hi"}}},
{"data":{"name":"yt17"},"mark":{"type":"text","align":"right","baseline":"middle","dx":-4,"font":"Liberation Sans","fontWeight":"bold","fontSize":8.5,"color":"#000000"},"encoding":{"x":{"datum":-1,"type":"quantitative"},"y":{"field":"v","type":"quantitative"},"text":{"field":"v","type":"nominal"}}}]},
{"width":99,"height":80,"title":{"text":"Showering μ"},"data":{"name":"p18"},"layer":[
{"mark":{"type":"line","interpolate":"step-after","color":"#ff0000","strokeDash":[1.5,1.5],"strokeWidth":1.5},"encoding":{"x":{"field":"x0","type":"quantitative","scale":{"domain":[-1,0],"nice":false,"zero":false},"axis":{"title":"Cos zenith","values":[-1,0],"labelExpr":"datum.value < -0.5 ? '-1' : '0'","titleY":22,"titleBaseline":"alphabetic"}},"y":{"field":"r","type":"quantitative","scale":{"domain":[0,200],"nice":false},"axis":{"title":null,"values":[0,50,100,150]}}}},
{"mark":{"type":"line","interpolate":"step-after","color":"#0000ff","strokeWidth":2},"encoding":{"x":{"field":"x0","type":"quantitative"},"y":{"field":"b","type":"quantitative"}}},
{"transform":[{"filter":"isValid(datum.d)"}],"mark":{"type":"rule","color":"#000000","strokeWidth":1.3},"encoding":{"x":{"field":"x0","type":"quantitative"},"x2":{"field":"x1"},"y":{"field":"d","type":"quantitative"}}},
{"transform":[{"filter":"isValid(datum.d)"}],"mark":{"type":"rule","color":"#000000","strokeWidth":1.3},"encoding":{"x":{"field":"xc","type":"quantitative"},"y":{"field":"lo","type":"quantitative"},"y2":{"field":"hi"}}},
{"data":{"name":"yt18"},"mark":{"type":"text","align":"right","baseline":"middle","dx":-4,"font":"Liberation Sans","fontWeight":"bold","fontSize":8.5,"color":"#000000"},"encoding":{"x":{"datum":-1,"type":"quantitative"},"y":{"field":"v","type":"quantitative"},"text":{"field":"v","type":"nominal"}}}]}
],
"config": {
"view": {"stroke": "#000000", "strokeWidth": 1},
"font": "Liberation Sans",
"axis": {"domain": false, "grid": false, "ticks": true, "tickColor": "#000000", "tickSize": 3, "tickWidth": 1, "labelFont": "Liberation Sans", "labelFontWeight": "bold", "labelFontSize": 8.5, "labelColor": "#000000", "labelPadding": 1, "labelFlush": false, "labelOverlap": false, "titleFont": "Liberation Sans", "titleFontWeight": "bold", "titleFontSize": 9.7, "titleColor": "#000000", "titlePadding": 2},
"axisY": {"labels": false, "titlePadding": 12},
"axisX": {"labelPadding": 2, "titlePadding": 0},
"title": {"font": "Liberation Sans", "fontSize": 10, "fontWeight": "bold", "color": "#000000", "anchor": "middle", "dx": -8, "offset": 9, "baseline": "alphabetic", "frame": "group"}
}
}
